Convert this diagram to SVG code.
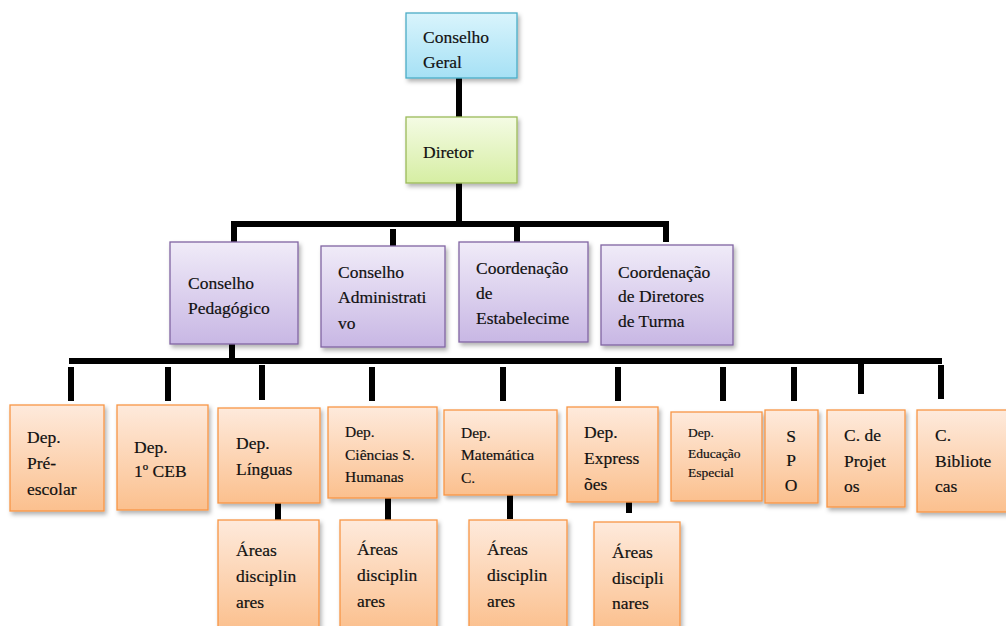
<svg xmlns="http://www.w3.org/2000/svg" width="1006" height="626" viewBox="0 0 1006 626">
<defs>
<linearGradient id="gCyan" x1="0" y1="0" x2="0" y2="1"><stop offset="0" stop-color="#d9f4fc"/><stop offset="1" stop-color="#a6e1f5"/></linearGradient>
<linearGradient id="gGreen" x1="0" y1="0" x2="0" y2="1"><stop offset="0" stop-color="#f4fbe4"/><stop offset="1" stop-color="#d6eea3"/></linearGradient>
<linearGradient id="gPurple" x1="0" y1="0" x2="0" y2="1"><stop offset="0" stop-color="#f0ebf8"/><stop offset="1" stop-color="#c8b7e4"/></linearGradient>
<linearGradient id="gOrange" x1="0" y1="0" x2="0" y2="1"><stop offset="0" stop-color="#feeadc"/><stop offset="1" stop-color="#fbc08e"/></linearGradient>
<filter id="sh" x="-10%" y="-10%" width="130%" height="130%"><feDropShadow dx="2" dy="3" stdDeviation="2" flood-color="#000" flood-opacity="0.3"/></filter>
</defs>
<style>
.c{fill:url(#gCyan);stroke:#4bacc6;stroke-width:1.3;filter:url(#sh)}
.g{fill:url(#gGreen);stroke:#9bbb59;stroke-width:1.3;filter:url(#sh)}
.p{fill:url(#gPurple);stroke:#8064a2;stroke-width:1.3;filter:url(#sh)}
.o{fill:url(#gOrange);stroke:#f79646;stroke-width:1.3;filter:url(#sh)}
text{font-family:"Liberation Serif","Times New Roman",serif;font-size:17.5px;fill:#111;stroke:#111;stroke-width:0.2}
.s{font-size:15.5px}
.xs{font-size:13.5px}
.ln{fill:#000}
</style>
<g id="connectors">
<rect class="ln" x="456" y="77" width="6" height="41"/>
<rect class="ln" x="456" y="183" width="6" height="40"/>
<rect class="ln" x="231" y="221" width="437" height="6"/>
<rect class="ln" x="231" y="221" width="6" height="21"/>
<rect class="ln" x="390" y="229" width="6" height="18"/>
<rect class="ln" x="514" y="224" width="6" height="18"/>
<rect class="ln" x="663" y="221" width="6" height="21"/>
<rect class="ln" x="229" y="338" width="6" height="22"/>
<rect class="ln" x="69" y="358" width="873" height="6"/>
<rect class="ln" x="68" y="367" width="6" height="34"/>
<rect class="ln" x="165" y="367" width="6" height="34"/>
<rect class="ln" x="259" y="365" width="6" height="35"/>
<rect class="ln" x="369" y="367" width="6" height="34"/>
<rect class="ln" x="500" y="367" width="6" height="34"/>
<rect class="ln" x="615" y="367" width="6" height="34"/>
<rect class="ln" x="720" y="367" width="6" height="34"/>
<rect class="ln" x="791" y="367" width="6" height="34"/>
<rect class="ln" x="858" y="364" width="6" height="30"/>
<rect class="ln" x="938" y="365" width="6" height="34"/>
<rect class="ln" x="275" y="503" width="6" height="18"/>
<rect class="ln" x="385" y="498" width="6" height="22"/>
<rect class="ln" x="507" y="495" width="6" height="24"/>
<rect class="ln" x="626" y="502" width="6" height="11"/>
</g>
<g id="conselho-geral"><rect class="c" x="406" y="13" width="111" height="65"/><text x="423" y="43">Conselho</text><text x="423" y="68">Geral</text></g>
<g id="diretor"><rect class="g" x="406" y="117" width="111" height="66"/><text x="423" y="158">Diretor</text></g>
<g id="conselho-pedagogico"><rect class="p" x="170" y="242" width="128" height="102"/><text x="188" y="289">Conselho</text><text x="188" y="314">Pedagógico</text></g>
<g id="conselho-administrativo"><rect class="p" x="321" y="246" width="124" height="101"/><text x="338" y="278">Conselho</text><text x="338" y="303">Administrati</text><text x="338" y="329">vo</text></g>
<g id="coord-estabelecimento"><rect class="p" x="459" y="242" width="129" height="100"/><text x="476" y="274">Coordenação</text><text x="476" y="299">de</text><text x="476" y="324">Estabelecime</text></g>
<g id="coord-diretores"><rect class="p" x="601" y="245" width="132" height="100"/><text x="618" y="278">Coordenação</text><text x="618" y="302">de Diretores</text><text x="618" y="327">de Turma</text></g>
<g id="dep-pre-escolar"><rect class="o" x="10" y="405" width="94" height="106"/><text x="27" y="443">Dep.</text><text x="27" y="469">Pré-</text><text x="27" y="495">escolar</text></g>
<g id="dep-1ceb"><rect class="o" x="117" y="405" width="91" height="105"/><text x="134" y="453">Dep.</text><text x="134" y="477">1º CEB</text></g>
<g id="dep-linguas"><rect class="o" x="218" y="408" width="102" height="95"/><text x="236" y="449">Dep.</text><text x="236" y="475">Línguas</text></g>
<g id="dep-ciencias"><rect class="o" x="328" y="407" width="109" height="91"/><text class="s" x="345" y="437">Dep.</text><text class="s" x="345" y="460">Ciências S.</text><text class="s" x="345" y="482">Humanas</text></g>
<g id="dep-matematica"><rect class="o" x="444" y="410" width="113" height="85"/><text class="s" x="461" y="438">Dep.</text><text class="s" x="461" y="460">Matemática</text><text class="s" x="461" y="483">C.</text></g>
<g id="dep-expressoes"><rect class="o" x="567" y="407" width="91" height="95"/><text x="584" y="438">Dep.</text><text x="584" y="464">Express</text><text x="584" y="490">ões</text></g>
<g id="dep-educacao-especial"><rect class="o" x="671" y="412" width="91" height="89"/><text class="xs" x="688" y="437">Dep.</text><text class="xs" x="688" y="458">Educação</text><text class="xs" x="688" y="477">Especial</text></g>
<g id="spo"><rect class="o" x="765" y="410" width="53" height="93"/><text x="791" y="442" text-anchor="middle">S</text><text x="791" y="466" text-anchor="middle">P</text><text x="791" y="491" text-anchor="middle">O</text></g>
<g id="c-projetos"><rect class="o" x="827" y="410" width="78" height="97"/><text x="844" y="441">C. de</text><text x="844" y="467">Projet</text><text x="844" y="492">os</text></g>
<g id="c-bibliotecas"><rect class="o" x="917" y="410" width="90" height="102"/><text x="935" y="441">C.</text><text x="935" y="467">Bibliote</text><text x="935" y="492">cas</text></g>
<g id="areas-1"><rect class="o" x="218" y="520" width="101" height="110"/><text x="236" y="556">Áreas</text><text x="236" y="582">disciplin</text><text x="236" y="608">ares</text></g>
<g id="areas-2"><rect class="o" x="340" y="520" width="97" height="110"/><text x="357" y="555">Áreas</text><text x="357" y="581">disciplin</text><text x="357" y="607">ares</text></g>
<g id="areas-3"><rect class="o" x="469" y="520" width="98" height="110"/><text x="487" y="555">Áreas</text><text x="487" y="581">disciplin</text><text x="487" y="607">ares</text></g>
<g id="areas-4"><rect class="o" x="594" y="522" width="86" height="108"/><text x="612" y="558">Áreas</text><text x="612" y="584">discipli</text><text x="612" y="609">nares</text></g>
</svg>
